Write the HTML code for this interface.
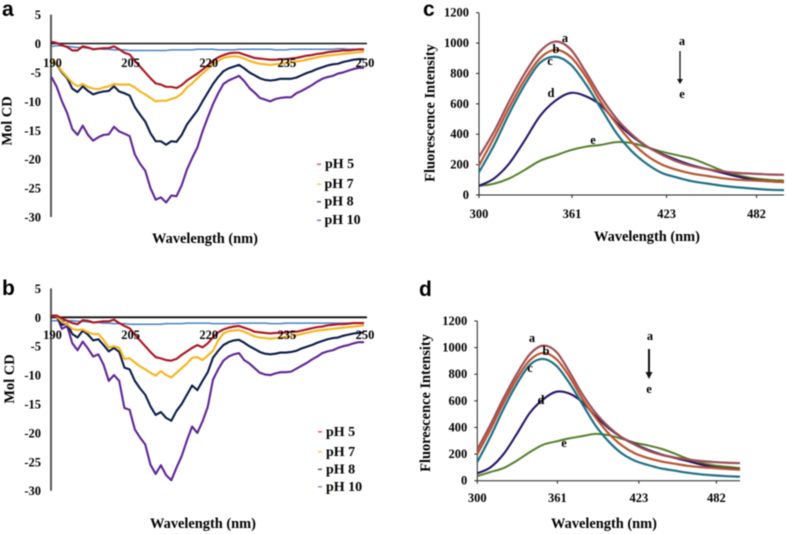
<!DOCTYPE html>
<html>
<head>
<meta charset="utf-8">
<title>CD and fluorescence spectra</title>
<style>
html,body{margin:0;padding:0;background:#fff;width:787px;height:534px;overflow:hidden}
svg{display:block;filter:blur(0.6px)}
text{font-family:"Liberation Serif",serif;font-weight:bold;fill:#000}
.panel{font-family:"Liberation Sans",sans-serif;font-size:21px;fill:#000}
.title{font-size:14.4px;text-anchor:middle}
.tick{font-size:12.5px}
.leg{font-size:14px}
.let{font-size:12.5px;text-anchor:middle}
</style>
</head>
<body>
<svg id="fig" width="787" height="534" viewBox="0 0 787 534" xmlns="http://www.w3.org/2000/svg">
  <text class="panel" x="2" y="16">a</text>
  <text class="panel" x="2" y="295">b</text>
  <text class="panel" x="423" y="16">c</text>
  <text class="panel" x="419" y="296">d</text>

  <text class="title" x="205" y="243">Wavelength (nm)</text>
  <text class="title" x="203" y="528">Wavelength (nm)</text>
  <text class="title" x="647" y="241">Wavelength (nm)</text>
  <text class="title" x="604" y="528">Wavelength (nm)</text>

  <text class="title" transform="translate(11.5 121) rotate(-90)">Mol CD</text>
  <text class="title" transform="translate(14 379) rotate(-90)">Mol CD</text>
  <text class="title" transform="translate(434.5 113) rotate(-90)">Fluorescence Intensity</text>
  <text class="title" transform="translate(430 403) rotate(-90)">Fluorescence Intensity</text>

  <g>
    <rect x="317" y="163.5" width="4" height="1.6" fill="#e8606a"/>
    <text class="leg" x="325" y="168">pH 5</text>
    <rect x="317" y="183.5" width="4" height="1.6" fill="#f5cf60"/>
    <text class="leg" x="324.5" y="188">pH 7</text>
    <rect x="317" y="201" width="4" height="1.6" fill="#5a6a88"/>
    <text class="leg" x="324.5" y="205.5">pH 8</text>
    <rect x="317" y="219.5" width="4" height="1.6" fill="#9478b8"/>
    <text class="leg" x="324.5" y="224">pH 10</text>
  </g>
  <g>
    <rect x="318" y="431" width="4" height="1.6" fill="#e8606a"/>
    <text class="leg" x="326" y="436">pH 5</text>
    <rect x="318" y="451" width="4" height="1.6" fill="#f5cf60"/>
    <text class="leg" x="326" y="456">pH 7</text>
    <rect x="318" y="468.5" width="4" height="1.6" fill="#5a6a88"/>
    <text class="leg" x="326" y="473.5">pH 8</text>
    <rect x="318" y="486" width="4" height="1.6" fill="#7f9ac8"/>
    <text class="leg" x="326" y="491">pH 10</text>
  </g>

  <g>
    <text class="let" x="682" y="45">a</text>
    <line x1="680" y1="51" x2="680" y2="80" stroke="#111" stroke-width="1.3"/>
    <polygon points="677,79 683,79 680,84" fill="#111"/>
    <text class="let" x="682" y="98">e</text>
  </g>
  <g>
    <text class="let" x="650" y="340">a</text>
    <line x1="649" y1="349" x2="649" y2="373" stroke="#111" stroke-width="2"/>
    <polygon points="645.5,372 652.5,372 649,379" fill="#111"/>
    <text class="let" x="649" y="393">e</text>
  </g>
</svg>

<script>
// ---------- CD panels (a, b) ----------
const cdWavelengths = [190,191,192,193,194,195,196,197,198,199,200,201,202,203,204,205,206,207,208,209,210,211,212,213,214,215,216,217,218,219,220,221,222,223,224,225,226,227,228,229,230,231,232,233,234,235,236,237,238,239,240,241,242,243,244,245,246,247,248,249,250];
const cdXTicks = [190,205,220,235,250];
const cdYTicks = [5,0,-5,-10,-15,-20,-25,-30];

const aPh5 = [0.3,0.1,-0.3,-0.6,-1.2,-1.2,-0.5,-0.7,-1,-0.9,-0.8,-0.8,-0.5,-1,-1.6,-1.9,-3,-4,-5,-6,-6.9,-7.1,-7.5,-7.5,-7.7,-7.2,-6.4,-5.8,-5.2,-4.5,-3.8,-3,-2.4,-2,-1.7,-1.6,-1.6,-1.9,-2.2,-2.5,-2.6,-2.7,-2.8,-2.8,-2.7,-2.7,-2.6,-2.5,-2.3,-2.1,-2,-1.8,-1.7,-1.5,-1.4,-1.3,-1.2,-1.2,-1.1,-1,-1];
const aPh7 = [-3,-3.5,-4.8,-5.8,-6.8,-7.4,-7,-7.5,-7.8,-7.9,-7.6,-7.4,-7,-7.1,-7.1,-7.1,-7.6,-8.3,-8.8,-9.4,-10,-9.9,-9.9,-9.6,-9.3,-8.7,-7.6,-6.9,-6,-5.2,-4.4,-3.6,-3,-2.5,-2.3,-2.2,-2.3,-2.6,-3,-3.3,-3.5,-3.6,-3.7,-3.6,-3.5,-3.4,-3.3,-3.1,-3,-2.8,-2.6,-2.4,-2.2,-2.1,-2,-1.9,-1.8,-1.7,-1.6,-1.5,-1.4];
const aPh8 = [-3,-3.6,-5,-6,-7.8,-8.4,-7.4,-8.2,-8.8,-8.5,-8.3,-8.2,-7.4,-8.3,-8.6,-9,-11,-12.3,-13.5,-15.5,-16.9,-16.9,-17.5,-16.9,-17,-15.8,-14,-12.8,-11.6,-10,-8.5,-7,-5.8,-4.8,-4.3,-4,-3.7,-4.3,-5,-5.5,-6,-6.3,-6.4,-6.3,-6.1,-6.1,-6.1,-5.9,-5.5,-5.1,-4.8,-4.4,-4.1,-3.8,-3.6,-3.5,-3.2,-3,-2.8,-2.7,-2.7];
const aPh10 = [-5.8,-7.5,-10,-12,-14.8,-15.8,-14.2,-15.8,-16.8,-16.2,-15.8,-15.7,-14.4,-15.2,-15.6,-16,-19.2,-20.8,-22,-25,-27,-26.6,-27.5,-26.3,-26.4,-24.5,-21.8,-19.8,-18,-15.2,-12.8,-10.5,-8.6,-7,-6.4,-6,-5.6,-6.5,-7.7,-8.5,-9.4,-9.7,-10,-9.6,-9.4,-9.3,-9.3,-8.6,-8.2,-7.7,-7.2,-6.6,-6.1,-5.8,-5.6,-5.2,-5,-4.7,-4.4,-4.2,-4.2];
const aBlank = [-0.5,-0.4,-0.4,-0.5,-0.6,-0.7,-0.7,-0.8,-0.9,-0.9,-1,-1,-1.1,-1.1,-1.1,-1.2,-1.2,-1.2,-1.2,-1.2,-1.2,-1.2,-1.2,-1.1,-1.1,-1.1,-1.1,-1.1,-1,-1,-1,-1,-1.1,-1.1,-1.1,-1.1,-1,-1,-1,-1,-1,-1,-1,-1.1,-1.1,-1.1,-1,-1,-1,-1,-1,-1,-1,-1,-1,-0.9,-0.9,-1,-1,-1,-1];

const bPh5 = [0.3,0.3,-0.2,-0.6,-1,-1.2,-0.5,-0.6,-0.9,-0.8,-0.7,-0.7,-0.4,-1,-1.5,-1.9,-3,-4,-5,-6,-6.9,-7.1,-7.4,-7.5,-7.2,-6.5,-5.9,-5.3,-4.8,-5.2,-4.5,-3.5,-2.6,-2.1,-1.8,-1.6,-1.5,-1.8,-2.1,-2.5,-2.6,-2.7,-2.8,-2.7,-2.7,-2.6,-2.5,-2.5,-2.3,-2.1,-1.9,-1.7,-1.6,-1.4,-1.3,-1.2,-1.2,-1.1,-1,-1,-1];
const bPh7 = [0.3,0.2,-0.8,-1.2,-2,-2.2,-2.1,-2.6,-2.9,-2.9,-3.9,-5.2,-5,-5.3,-7.2,-7.1,-7.8,-8.5,-9,-9.6,-10.1,-9.3,-10,-10.4,-9.6,-8.8,-8,-7,-6.9,-7.4,-6.6,-5.8,-4,-2.8,-2.4,-2.3,-2.2,-2.5,-2.9,-3.3,-3.5,-3.6,-3.7,-3.6,-3.5,-3.4,-3.3,-3.1,-2.9,-2.7,-2.5,-2.3,-2.2,-2.1,-2,-1.9,-1.8,-1.7,-1.6,-1.5,-1.4];
const bPh8 = [0.3,0.2,-1.3,-1.1,-2.9,-3.5,-2.3,-3,-4,-3.8,-4.8,-5.9,-5.3,-6,-8.7,-9,-11,-12.3,-13.4,-15.4,-16.9,-16.4,-17.4,-17.9,-16.2,-15,-13.4,-11.8,-12.6,-11,-9.5,-7,-5.8,-4.8,-4.3,-4,-3.9,-4.4,-5,-5.5,-6,-6.3,-6.4,-6.3,-6.1,-6.1,-6,-5.8,-5.4,-5.1,-4.8,-4.4,-4.1,-3.8,-3.6,-3.5,-3.2,-3,-2.8,-2.7,-2.6];
const bPh10 = [0.3,0.2,-2,-1.5,-4.5,-5.7,-4.2,-5.4,-6.8,-6.4,-8.2,-11,-10,-11,-15.7,-16,-19.4,-20.8,-22,-25.5,-27.1,-25.6,-27.3,-28.2,-26,-24,-21.3,-18.9,-20,-18,-15.5,-10.8,-9,-7.5,-6.8,-6.4,-6.2,-7.4,-8,-8.8,-9.6,-9.9,-10,-9.7,-9.5,-9.5,-9.4,-8.9,-8.4,-7.9,-7.3,-6.8,-6.2,-5.9,-5.7,-5.3,-5,-4.8,-4.5,-4.3,-4.3];
const bBlank = [-0.6,-0.6,-0.6,-0.6,-0.6,-0.7,-0.7,-0.8,-0.9,-0.9,-1,-1,-1.1,-1.1,-1.1,-1.2,-1.2,-1.2,-1.2,-1.2,-1.2,-1.2,-1.1,-1.1,-1.1,-1.1,-1,-1,-1,-1,-1,-1.1,-1.1,-1.1,-1.1,-1.1,-1,-1,-1,-1,-1,-1,-1.1,-1.1,-1.1,-1,-1,-1,-1,-1,-1,-1,-1,-1,-1,-1,-1,-1,-1,-1,-1];

// ---------- Fluorescence panels (c, d) ----------
const flWavelengths = [300,310,320,330,340,350,360,370,380,390,400,410,420,430,440,450,460,470,480,490,500];
const flXTicks = [300,361,423,482];
const flYTicks = [0,200,400,600,800,1000,1200];

const cCurveA = [250,420,620,800,945,1010,960,810,645,505,400,320,265,220,190,170,155,145,140,135,133];
const cCurveB = [195,380,580,760,900,955,910,780,610,470,350,260,200,165,140,125,110,100,95,90,85];
const cCurveC = [150,330,540,725,870,910,860,730,570,410,290,205,145,115,90,75,60,50,42,35,32];
const cCurveD = [60,110,210,360,520,620,672,650,590,480,390,320,270,230,195,170,145,120,100,90,85];
const cCurveE = [60,75,110,165,225,260,295,318,330,348,342,315,285,262,238,200,158,130,110,100,95];

const dCurveA = [235,420,620,800,950,1015,970,820,650,510,405,325,270,225,195,175,160,148,140,135,132];
const dCurveB = [200,385,585,765,905,960,915,785,615,475,355,265,205,170,145,128,112,102,95,88,82];
const dCurveC = [140,330,540,725,870,915,865,735,575,415,295,205,150,118,92,76,60,48,40,34,30];
const dCurveD = [55,100,200,350,510,610,668,655,590,485,395,325,275,232,198,172,148,122,102,92,85];
const dCurveE = [35,65,95,150,215,270,295,318,335,352,342,315,285,265,240,205,165,135,115,105,95];

const cLetters = ['a','b','c','d','e'];

const SVGNS = 'http://www.w3.org/2000/svg';
const fig = document.getElementById('fig');

function linearScale(d0, d1, r0, r1) {
  return function (v) { return r0 + (v - d0) * (r1 - r0) / (d1 - d0); };
}

function addLine(x1, y1, x2, y2, color, width, name) {
  const el = document.createElementNS(SVGNS, 'line');
  el.setAttribute('x1', x1);
  el.setAttribute('y1', y1);
  el.setAttribute('x2', x2);
  el.setAttribute('y2', y2);
  el.setAttribute('stroke', color);
  el.setAttribute('stroke-width', width);
  
  
  fig.appendChild(el);
}

function addText(x, y, str, anchor, cls, name) {
  const el = document.createElementNS(SVGNS, 'text');
  el.setAttribute('x', x);
  el.setAttribute('y', y);
  el.setAttribute('text-anchor', anchor);
  el.setAttribute('class', cls);
  
  
  el.textContent = str;
  fig.appendChild(el);
}

function addPolyline(xs, ys, sx, sy, color, width, name) {
  let d = '';
  xs.forEach(function (x, i) {
    d += (i ? 'L' : 'M') + sx(x).toFixed(2) + ' ' + sy(ys[i]).toFixed(2);
  });
  const el = document.createElementNS(SVGNS, 'path');
  el.setAttribute('d', d);
  el.setAttribute('fill', 'none');
  el.setAttribute('stroke', color);
  el.setAttribute('stroke-width', width);
  el.setAttribute('stroke-linejoin', 'round');
  
  
  fig.appendChild(el);
}

function addSmooth(xs, ys, sx, sy, color, width, name) {
  const px = xs.map(sx);
  const py = ys.map(sy);
  let d = 'M' + px[0].toFixed(2) + ' ' + py[0].toFixed(2);
  for (let i = 0; i < px.length - 1; i++) {
    const a = Math.max(i - 1, 0);
    const b = Math.min(i + 2, px.length - 1);
    const c1x = px[i] + (px[i + 1] - px[a]) / 6;
    const c1y = py[i] + (py[i + 1] - py[a]) / 6;
    const c2x = px[i + 1] - (px[b] - px[i]) / 6;
    const c2y = py[i + 1] - (py[b] - py[i]) / 6;
    d += 'C' + c1x.toFixed(2) + ' ' + c1y.toFixed(2) + ' ' + c2x.toFixed(2) + ' ' + c2y.toFixed(2) + ' ' + px[i + 1].toFixed(2) + ' ' + py[i + 1].toFixed(2);
  }
  const el = document.createElementNS(SVGNS, 'path');
  el.setAttribute('d', d);
  el.setAttribute('fill', 'none');
  el.setAttribute('stroke', color);
  el.setAttribute('stroke-width', width);
  
  
  fig.appendChild(el);
}

function drawCD(p, o, s) {
  const sx = linearScale(190, 250, o.x190, o.x250);
  const sy = linearScale(0, -30, o.y0, o.yM30);
  addLine(o.x190 - 0.5, sy(5), o.x190 - 0.5, sy(-30), '#444', 1.8, p + '-y-axis');
  addLine(o.x190 - 0.5, sy(0), o.x250 + 3, sy(0), '#111', o.zeroW, p + '-zero-line');
  cdYTicks.forEach(function (t) {
    addText(41, sy(t) + 4.5, String(t), 'end', 'tick', p + '-y-tick-label');
  });
  addPolyline(cdWavelengths, s.blank, sx, sy, '#4a80c4', 1.5, p + '-series-blue');
  addPolyline(cdWavelengths, s.ph10, sx, sy, '#5f2596', 2.1, p + '-series-ph10');
  addPolyline(cdWavelengths, s.ph8, sx, sy, '#0a1c48', 2.1, p + '-series-ph8');
  addPolyline(cdWavelengths, s.ph7, sx, sy, '#f7b41e', 2.1, p + '-series-ph7');
  addPolyline(cdWavelengths, s.ph5, sx, sy, '#ac1420', 2.1, p + '-series-ph5');
  cdXTicks.forEach(function (t) {
    addText(sx(t) + 1, o.xLabelY, String(t), 'middle', 'tick', p + '-x-tick-label');
  });
}

function drawFL(p, o, curves) {
  const sx = linearScale(300, 500, o.x300, o.x500);
  const sy = linearScale(0, 1200, o.y0, o.y1200);
  addLine(o.x300, o.y1200, o.x300, o.y0, '#222', 1, p + '-y-axis');
  addLine(o.x300, o.y0, o.x500, o.y0, '#222', 1, p + '-x-axis');
  flYTicks.forEach(function (t) {
    addLine(o.x300 - 3, sy(t), o.x300, sy(t), '#222', 1, p + '-y-tick');
    addText(o.x300 - 10, sy(t) + 4, String(t), 'end', 'tick', p + '-y-tick-label');
  });
  flXTicks.forEach(function (t) {
    addLine(sx(t), o.y0, sx(t), o.y0 + 3, '#222', 1, p + '-x-tick');
    addText(sx(t), o.xLabelY, String(t), 'middle', 'tick', p + '-x-tick-label');
  });
  addSmooth(flWavelengths, curves[4], sx, sy, '#55802a', 2, p + '-curve-e');
  addSmooth(flWavelengths, curves[3], sx, sy, '#29166a', 2.1, p + '-curve-d');
  addSmooth(flWavelengths, curves[2], sx, sy, '#1f7088', 2.2, p + '-curve-c');
  addSmooth(flWavelengths, curves[1], sx, sy, '#b95530', 2.2, p + '-curve-b');
  addSmooth(flWavelengths, curves[0], sx, sy, '#a04f55', 2.2, p + '-curve-a');
}

drawCD('a', {x190: 51.5, x250: 364, y0: 43.5, yM30: 217, zeroW: 1.5, xLabelY: 67},
  {ph5: aPh5, ph7: aPh7, ph8: aPh8, ph10: aPh10, blank: aBlank});
drawCD('b', {x190: 51.5, x250: 364, y0: 317.3, yM30: 490.7, zeroW: 1.8, xLabelY: 339},
  {ph5: bPh5, ph7: bPh7, ph8: bPh8, ph10: bPh10, blank: bBlank});
drawFL('c', {x300: 479, x500: 784, y0: 195, y1200: 12.7, xLabelY: 218},
  [cCurveA, cCurveB, cCurveC, cCurveD, cCurveE]);
drawFL('d', {x300: 477.3, x500: 740, y0: 480.7, y1200: 321, xLabelY: 502},
  [dCurveA, dCurveB, dCurveC, dCurveD, dCurveE]);

// Curve letters placed beside the curves
const cLetterX = [565, 556, 550, 551, 593];
const cLetterY = [42, 53, 65, 97, 144];
const dLetterX = [532, 546, 530, 541, 564];
const dLetterY = [342, 355, 372, 404, 447];
cLetters.forEach(function (l, i) {
  addText(cLetterX[i], cLetterY[i], l, 'middle', 'let', 'c-curve-label-' + l);
  addText(dLetterX[i], dLetterY[i], l, 'middle', 'let', 'd-curve-label-' + l);
});
</script>
</body>
</html>
